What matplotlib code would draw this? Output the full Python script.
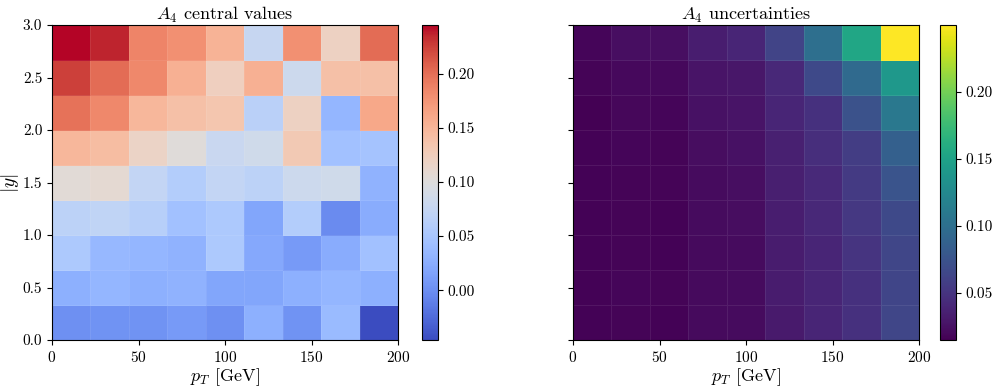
import numpy as np
import matplotlib
matplotlib.use("Agg")
import matplotlib.pyplot as plt

plt.rcParams["font.family"] = "cmr10"
plt.rcParams["mathtext.fontset"] = "cm"
plt.rcParams["axes.formatter.use_mathtext"] = True

# bin edges
pt_edges = np.linspace(0, 200, 10)
y_edges = np.linspace(0, 3, 10)

# A4 central values, rows from |y| low -> high, columns pT low -> high
central = np.array([
    [0.001, 0.004, 0.004, 0.009, 0.001, 0.027, 0.004, 0.038, -0.046],
    [0.027, 0.033, 0.027, 0.030, 0.018, 0.018, 0.027, 0.033, 0.027],
    [0.053, 0.035, 0.033, 0.030, 0.053, 0.021, 0.009, 0.024, 0.044],
    [0.067, 0.070, 0.062, 0.044, 0.053, 0.018, 0.059, -0.002, 0.024],
    [0.105, 0.108, 0.073, 0.059, 0.073, 0.067, 0.082, 0.085, 0.030],
    [0.149, 0.143, 0.117, 0.102, 0.079, 0.085, 0.131, 0.044, 0.047],
    [0.198, 0.184, 0.149, 0.140, 0.134, 0.065, 0.120, 0.033, 0.161],
    [0.225, 0.201, 0.184, 0.155, 0.123, 0.155, 0.082, 0.140, 0.140],
    [0.245, 0.237, 0.187, 0.178, 0.152, 0.076, 0.178, 0.120, 0.201],
])

# A4 uncertainties
uncert = np.array([
    [0.016, 0.017, 0.016, 0.021, 0.022, 0.031, 0.039, 0.048, 0.064],
    [0.016, 0.018, 0.017, 0.021, 0.022, 0.033, 0.039, 0.048, 0.063],
    [0.016, 0.017, 0.016, 0.021, 0.022, 0.033, 0.039, 0.050, 0.064],
    [0.016, 0.017, 0.016, 0.022, 0.023, 0.034, 0.041, 0.053, 0.067],
    [0.016, 0.017, 0.017, 0.022, 0.024, 0.035, 0.042, 0.055, 0.076],
    [0.016, 0.018, 0.017, 0.023, 0.026, 0.036, 0.046, 0.057, 0.086],
    [0.015, 0.019, 0.018, 0.026, 0.027, 0.039, 0.048, 0.074, 0.109],
    [0.017, 0.020, 0.020, 0.027, 0.029, 0.041, 0.067, 0.095, 0.140],
    [0.018, 0.024, 0.024, 0.034, 0.039, 0.062, 0.100, 0.154, 0.250],
])

fig = plt.figure(figsize=(9.96, 3.9), dpi=100)

ax1 = fig.add_axes([52 / 996, 50 / 390, 346 / 996, 315 / 390])
cax1 = fig.add_axes([422 / 996, 50 / 390, 16 / 996, 315 / 390])
ax2 = fig.add_axes([573 / 996, 50 / 390, 346 / 996, 315 / 390])
cax2 = fig.add_axes([940 / 996, 50 / 390, 16 / 996, 315 / 390])

edge = dict(edgecolors=(1, 1, 1, 0.08), linewidth=0.4)

m1 = ax1.pcolormesh(pt_edges, y_edges, central, cmap="coolwarm", **edge)
m2 = ax2.pcolormesh(pt_edges, y_edges, uncert, cmap="viridis", **edge)

cb1 = fig.colorbar(m1, cax=cax1)
cb2 = fig.colorbar(m2, cax=cax2)
cb1.set_ticks([0.0, 0.05, 0.10, 0.15, 0.20])
cb2.set_ticks([0.05, 0.10, 0.15, 0.20])
cb1.ax.yaxis.set_major_formatter(matplotlib.ticker.FormatStrFormatter("%.2f"))
cb2.ax.yaxis.set_major_formatter(matplotlib.ticker.FormatStrFormatter("%.2f"))
for cb in (cb1, cb2):
    cb.ax.tick_params(labelsize=11)
    cb.outline.set_linewidth(0.8)

ax1.set_title(r"$A_4$ central values", fontsize=13, pad=3)
ax2.set_title(r"$A_4$ uncertainties", fontsize=13, pad=3)
ax1.set_ylabel(r"$|y|$", fontsize=14, labelpad=1)
for ax in (ax1, ax2):
    ax.set_xlabel(r"$p_T$ [GeV]", fontsize=13, labelpad=1)
    ax.set_xticks([0, 50, 100, 150, 200])
    ax.set_yticks([0.0, 0.5, 1.0, 1.5, 2.0, 2.5, 3.0])
    ax.tick_params(labelsize=11)
ax1.yaxis.set_major_formatter(matplotlib.ticker.FormatStrFormatter("%.1f"))
ax2.set_yticklabels([])

fig.savefig("out.png", dpi=100)
